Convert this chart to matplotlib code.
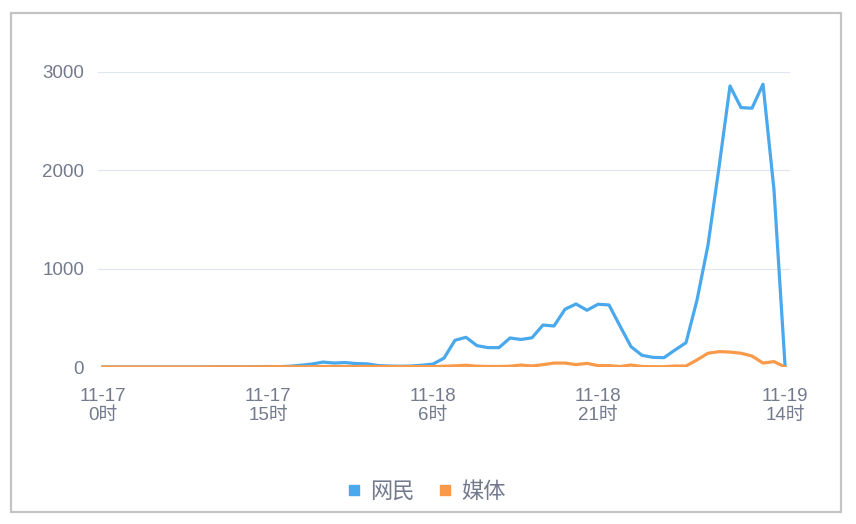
import matplotlib
matplotlib.use("Agg")
import matplotlib.pyplot as plt
from matplotlib.lines import Line2D
from matplotlib.patches import Rectangle

plt.rcParams['font.family'] = ['Liberation Sans', 'Noto Sans CJK SC', 'DejaVu Sans']

# hourly counts, 11-17 0时 .. 11-19 14时 (63 points)
netizens = [0, 0, 0, 0, 0, 0, 0, 0, 0, 0,
            2, 3, 3, 2, 3, 5, 3, 8, 18, 30,
            50, 40, 45, 35, 32, 15, 10, 8, 10, 18,
            30, 90, 272, 302, 217, 197, 197, 295, 280, 297,
            427, 417, 587, 641, 577, 638, 631, 417, 207, 119,
            98, 95, 173, 247, 680, 1240, 2030, 2858, 2638, 2632,
            2876, 1800, 20]
media = [0, 0, 0, 0, 0, 0, 0, 0, 0, 0,
         2, 2, 2, 2, 2, 3, 3, 3, 3, 3,
         5, 5, 5, 5, 5, 5, 4, 4, 4, 4,
         4, 8, 12, 18, 8, 5, 5, 8, 20, 10,
         24, 40, 40, 24, 37, 14, 14, 5, 20, 5,
         3, 3, 10, 10, 72, 140, 156, 152, 140, 112,
         40, 55, 0]

tick_pos = [0, 15, 30, 45, 62]
tick_labels = ['11-17\n0时', '11-17\n15时', '11-18\n6时', '11-18\n21时', '11-19\n14时']
y_ticks = [0, 1000, 2000, 3000]

series_names = ['网民', '媒体']
colors = ['#4aa8ec', '#f89a4a']
text_color = '#737a8e'

fig = plt.figure(figsize=(8.56, 5.24), dpi=100)
ax = fig.add_axes([98 / 856, 1 - 367 / 524, 692 / 856, 295 / 524])

x = list(range(len(netizens)))
ax.plot(x, netizens, color=colors[0], lw=2.3, solid_joinstyle='round', zorder=3)
ax.plot(x, media, color=colors[1], lw=2.3, solid_joinstyle='round', zorder=4)

ax.set_xlim(-5 / 11, 62 + 5 / 11)
ax.set_ylim(0, 3000)
ax.set_yticks(y_ticks)
ax.set_yticklabels([str(v) for v in y_ticks])
ax.set_xticks(tick_pos)
ax.set_xticklabels(tick_labels, linespacing=1.2)
ax.grid(axis='y', color='#e0e6f1', lw=0.8, zorder=0)
ax.grid(axis='x', visible=False)
for s in ax.spines.values():
    s.set_visible(False)
ax.tick_params(axis='y', length=0, pad=10, labelsize=13.5, labelcolor=text_color)
ax.tick_params(axis='x', length=0, pad=15, labelsize=13.5, labelcolor=text_color)
ax.set_axisbelow(True)

handles = [Line2D([], [], marker='s', linestyle='none', markersize=7.5,
                  markerfacecolor=c, markeredgecolor=c) for c in colors]
leg = fig.legend(handles, series_names, loc='center', bbox_to_anchor=(0.497, 32 / 524),
                 ncol=2, frameon=False, fontsize=16, handletextpad=0.3,
                 columnspacing=1.0, handlelength=0.8)
for t in leg.get_texts():
    t.set_color(text_color)

# outer frame
fig.patches.append(Rectangle((11 / 856, 1 - 512 / 524), 830 / 856, 499 / 524,
                             transform=fig.transFigure, fill=False,
                             edgecolor='#c4c4c4', lw=1.6))

fig.savefig('out.png', dpi=100)
